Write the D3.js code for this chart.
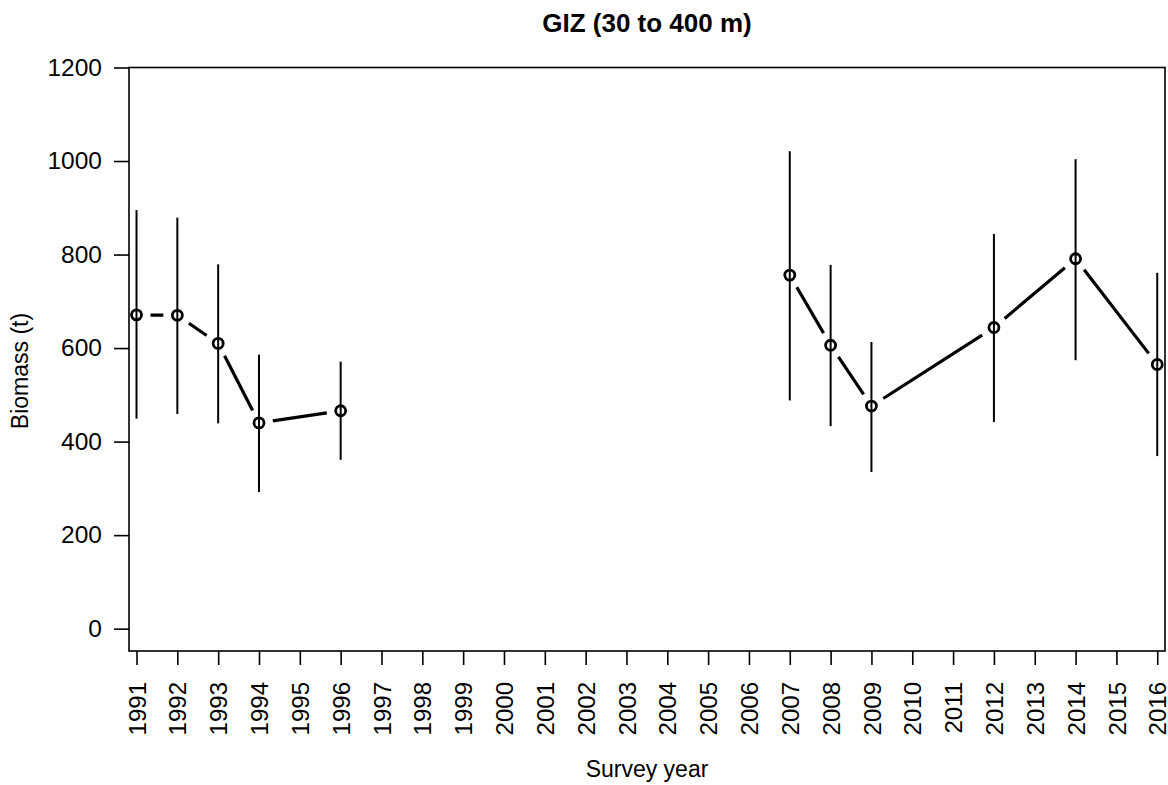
<!DOCTYPE html>
<html>
<head>
<meta charset="utf-8">
<script src="https://cdn.jsdelivr.net/npm/d3@7"></script>
<style>
  body { margin: 0; background: #fff; }
  svg { display: block; font-family: "Liberation Sans", Arial, sans-serif; }
</style>
</head>
<body>
<svg width="1168" height="785"></svg>
<script>
// survey years (null = break in the series)
var years = [1991, 1992, 1993, 1994, 1996, 1997, 2007, 2008, 2009, 2012, 2014, 2016];
var biomass = [671, 670, 610, 440, 466, null, 756, 606, 476, 644, 791, 565];
var lower = [449, 459, 439, 292, 361, null, 488, 433, 335, 442, 574, 369];
var upper = [895, 879, 779, 586, 571, null, 1021, 778, 613, 844, 1004, 761];
var yTicks = [0, 200, 400, 600, 800, 1000, 1200];
var xTicks = d3.range(1991, 2017);

var svg = d3.select("svg");
var plotL = 129, plotR = 1165, plotT = 67.5, plotB = 651;

var x = d3.scaleLinear().domain([1990.816, 2016.19]).range([plotL, plotR]);
var y = d3.scaleLinear().domain([-47.8, 1200]).range([plotB, plotT]);

var data = years.map(function (yr, i) {
    return { year: yr, value: biomass[i], lo: lower[i], hi: upper[i] };
});

// title
svg.append("text")
    .attr("x", (plotL + plotR) / 2)
    .attr("y", 32)
    .attr("text-anchor", "middle")
    .attr("font-weight", "bold")
    .attr("font-size", 26)
    .text("GIZ (30 to 400 m)");

// y axis
var yAxis = svg.append("g")
    .attr("transform", "translate(" + plotL + ",0)")
    .call(d3.axisLeft(y).tickValues(yTicks).tickSize(15).tickPadding(12).tickFormat(d3.format("d")));
yAxis.select(".domain").remove();
yAxis.selectAll("line").attr("stroke", "#000").attr("stroke-width", 1.6);
yAxis.selectAll("text").attr("font-size", 24.5).attr("fill", "#000")
    .attr("font-family", "Liberation Sans, Arial, sans-serif");

// x axis
var xAxis = svg.append("g")
    .attr("transform", "translate(0," + plotB + ")")
    .call(d3.axisBottom(x).tickValues(xTicks).tickSize(14).tickFormat(d3.format("d")));
xAxis.select(".domain").remove();
xAxis.selectAll("line").attr("stroke", "#000").attr("stroke-width", 1.6);
xAxis.selectAll("text")
    .attr("font-size", 24)
    .attr("fill", "#000")
    .attr("font-family", "Liberation Sans, Arial, sans-serif")
    .attr("text-anchor", "end")
    .attr("transform", "rotate(-90)")
    .attr("x", -31)
    .attr("y", 0)
    .attr("dy", "0.36em");

// box
svg.append("rect")
    .attr("x", plotL).attr("y", plotT)
    .attr("width", plotR - plotL).attr("height", plotB - plotT)
    .attr("fill", "none").attr("stroke", "#000").attr("stroke-width", 1.6);

// axis titles
svg.append("text")
    .attr("x", (plotL + plotR) / 2)
    .attr("y", 777)
    .attr("text-anchor", "middle")
    .attr("font-size", 23)
    .text("Survey year");

svg.append("text")
    .attr("transform", "translate(28,371) rotate(-90)")
    .attr("text-anchor", "middle")
    .attr("font-size", 23)
    .text("Biomass (t)");

// error bars
var pts = data.filter(function (d) { return d.value != null; });
svg.append("g").selectAll("line")
    .data(pts)
    .enter().append("line")
    .attr("x1", function (d) { return x(d.year); })
    .attr("x2", function (d) { return x(d.year); })
    .attr("y1", function (d) { return y(d.lo); })
    .attr("y2", function (d) { return y(d.hi); })
    .attr("stroke", "#000")
    .attr("stroke-width", 2);

// lines with gaps around points (type "b")
var segs = [];
for (var i = 1; i < data.length; i++) {
    var a = data[i - 1], b = data[i];
    if (a.value == null || b.value == null) continue;
    var x1 = x(a.year), y1 = y(a.value), x2 = x(b.year), y2 = y(b.value);
    var len = Math.hypot(x2 - x1, y2 - y1), gap = 14;
    if (len <= 2 * gap) continue;
    var ux = (x2 - x1) / len, uy = (y2 - y1) / len;
    segs.push([x1 + ux * gap, y1 + uy * gap, x2 - ux * gap, y2 - uy * gap]);
}
svg.append("g").selectAll("line")
    .data(segs)
    .enter().append("line")
    .attr("x1", function (d) { return d[0]; })
    .attr("y1", function (d) { return d[1]; })
    .attr("x2", function (d) { return d[2]; })
    .attr("y2", function (d) { return d[3]; })
    .attr("stroke", "#000")
    .attr("stroke-width", 3.2);

// points
svg.append("g").selectAll("circle")
    .data(pts)
    .enter().append("circle")
    .attr("cx", function (d) { return x(d.year); })
    .attr("cy", function (d) { return y(d.value); })
    .attr("r", 5)
    .attr("fill", "none")
    .attr("stroke", "#000")
    .attr("stroke-width", 2.8);
</script>
</body>
</html>
